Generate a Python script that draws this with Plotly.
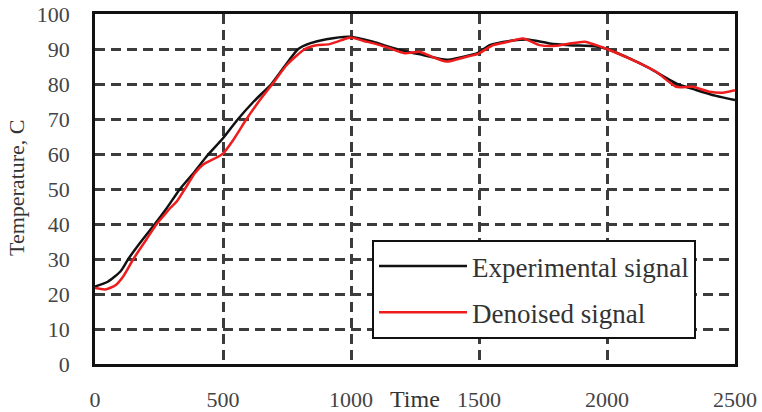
import plotly.graph_objects as go

# Experimental signal
exp_time = [0, 50, 100, 130, 180, 234, 280, 332, 390, 438, 500, 559, 620, 689, 740, 794, 839, 904, 995,
            1086, 1150, 1216, 1281, 1373, 1440, 1496, 1542, 1633, 1690, 1776, 1854, 1958, 2000, 2088, 2166,
            2270, 2348, 2426, 2500]
exp_temp = [22.1, 23.5, 26.5, 30, 35, 40, 44.5, 50, 55, 59.5, 64.5, 70, 75, 80, 85, 90, 91.6, 92.8, 93.5,
            92.1, 90.6, 89.3, 88.3, 86.9, 87.8, 88.9, 91.1, 92.4, 92.7, 91.6, 91.1, 90.7, 90, 87.3, 84.5,
            80.2, 78.3, 76.6, 75.4]

# Denoised signal
den_time = [0, 40, 80, 110, 150, 200, 241, 270, 293, 320, 351, 390, 423, 475, 501, 540, 592, 640, 693,
            750, 820, 865, 917, 982, 1000, 1050, 1100, 1151, 1210, 1268, 1300, 1373, 1451, 1496, 1555,
            1610, 1672, 1737, 1800, 1850, 1913, 1958, 2000, 2114, 2192, 2270, 2335, 2400, 2452, 2500]
den_temp = [21.7, 21.3, 22.5, 25, 30, 35.5, 40, 42.5, 44.5, 46.5, 50, 54.5, 57, 59, 60.2, 64, 70, 75, 80,
            85.5, 90, 91.1, 91.4, 93, 93.3, 92.3, 91.4, 90.2, 88.8, 89.2, 88.3, 86.4, 87.8, 88.6, 91.1,
            92, 93, 91.1, 90.9, 91.5, 92.1, 91.1, 90, 86.4, 83.5, 79.2, 79.2, 77.8, 77.5, 78.2]

x_ticks = [0, 500, 1000, 1500, 2000, 2500]
y_ticks = [0, 10, 20, 30, 40, 50, 60, 70, 80, 90, 100]

FONT = "Liberation Serif"
GRID = "#3c3c3c"

fig = go.Figure()
fig.add_trace(go.Scatter(x=exp_time, y=exp_temp, mode="lines", name="Experimental signal",
                         line=dict(color="#111111", width=2.5, shape="spline", smoothing=0.6),
                         legendgroup="a"))
fig.add_trace(go.Scatter(x=den_time, y=den_temp, mode="lines", name="Denoised signal",
                         line=dict(color="#ee1c1c", width=2.5, shape="spline", smoothing=0.6),
                         legendgroup="b"))

fig.update_layout(
    width=762, height=412,
    margin=dict(l=95, r=27, t=14, b=48, autoexpand=False),
    paper_bgcolor="white", plot_bgcolor="white",
    font=dict(family=FONT, color="#404040"),
    showlegend=True,
    legend=dict(
        x=(372 - 95) / 640, y=(364 - 240) / 350, xanchor="left", yanchor="top",
        bgcolor="white", bordercolor="#111111", borderwidth=2,
        font=dict(family=FONT, size=27, color="#333333"),
        traceorder="grouped", tracegroupgap=8, itemwidth=88,
    ),
    xaxis=dict(
        range=[0, 2500], tickvals=x_ticks, ticktext=[str(v) for v in x_ticks],
        showgrid=True, gridcolor=GRID, griddash="10px,6px", gridwidth=2.5,
        showline=True, linecolor="#111111", linewidth=2.5, mirror=True,
        zeroline=False, ticks="", ticklabelstandoff=14, automargin=False,
        ticklabeloverflow="allow",
        tickfont=dict(family=FONT, size=22, color="#444444"),
    ),
    yaxis=dict(
        range=[0, 100], tickvals=y_ticks, ticktext=[str(v) for v in y_ticks],
        showgrid=True, gridcolor=GRID, griddash="10px,6px", gridwidth=2.5,
        showline=True, linecolor="#111111", linewidth=2.5, mirror=True,
        zeroline=False, ticks="", ticklabelstandoff=18, automargin=False,
        ticklabeloverflow="allow",
        tickfont=dict(family=FONT, size=22, color="#444444"),
    ),
    annotations=[
        dict(text="Time", xref="paper", yref="paper", x=0.5, y=-(399 - 364) / 350,
             xanchor="center", yanchor="middle", showarrow=False,
             font=dict(family=FONT, size=24, color="#333333")),
        dict(text="Temperature, C", xref="paper", yref="paper", x=(16 - 95) / 640, y=(364 - 188) / 350,
             xanchor="center", yanchor="middle", textangle=-90, showarrow=False,
             font=dict(family=FONT, size=22, color="#333333")),
    ],
)

# remove the default 8px page margin so the figure sits at the window's top-left corner
fig.write_html("out.html", config={"displayModeBar": False},
               post_script="document.body.style.margin='0';")
